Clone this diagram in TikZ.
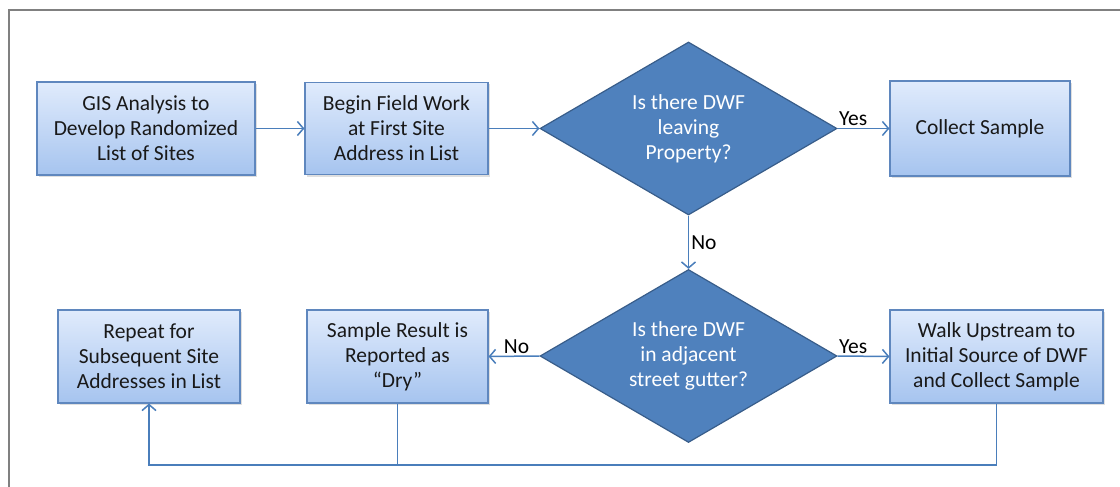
\documentclass[tikz,border=0pt]{standalone}
\usepackage{fontspec}
\setmainfont{Carlito}
\usetikzlibrary{shapes.geometric,arrows.meta,shadows}
\definecolor{boxtop}{RGB}{224,235,252}
\definecolor{boxbot}{RGB}{166,196,239}
\definecolor{boxline}{RGB}{95,135,190}
\definecolor{decfill}{RGB}{79,129,189}
\definecolor{decline}{RGB}{56,93,138}
\definecolor{linkcol}{RGB}{74,126,187}
\definecolor{framecol}{RGB}{128,128,128}

\begin{document}
\begin{tikzpicture}[x=1pt,y=1pt,
  every node/.style={font=\fontsize{21.5}{25}\selectfont},
  stepbox/.style={rectangle, draw=boxline, line width=1.2pt,
    top color=boxtop, bottom color=boxbot, align=center, inner sep=0pt,
    text=black!90,
    drop shadow={shadow xshift=1.5pt, shadow yshift=-2pt, opacity=0.25}},
  decision/.style={diamond, draw=decline, line width=1.2pt, fill=decfill,
    text=white, align=center, inner sep=0pt, aspect=1.72,
    minimum width=297pt, minimum height=173pt},
  linkline/.style={draw=linkcol, line width=1.5pt},
  link/.style={linkline, -{Straight Barb[length=6pt,width=14pt]}},
  lbl/.style={text=black, inner sep=2pt}]

  % page extent and outer frame
  \useasboundingbox (0,0) rectangle (1120,-487);
  \draw[framecol, line width=2pt] (9,-487) -- (9,-10.5) -- (1120,-10.5);

  % first row
  \node[stepbox, minimum width=218pt, minimum height=93pt] (gis) at (146,-128.5)
    {GIS Analysis to\\Develop Randomized\\List of Sites};
  \node[stepbox, minimum width=183pt, minimum height=92pt] (begin) at (396.5,-128.5)
    {Begin Field Work\\at First Site\\Address in List};
  \node[decision] (q1) at (688.5,-128.5) {Is there DWF\\leaving\\Property?};
  \node[stepbox, minimum width=180pt, minimum height=95pt] (collect) at (980,-128.5)
    {Collect Sample};

  % second row
  \node[decision] (q2) at (688.5,-356) {Is there DWF\\in adjacent\\street gutter?};
  \node[stepbox, minimum width=182pt, minimum height=93pt] (repeat) at (149,-356.5)
    {Repeat for\\Subsequent Site\\Addresses in List};
  \node[stepbox, minimum width=181pt, minimum height=93pt] (dry) at (397.5,-356.5)
    {Sample Result is\\Reported as\\“Dry”};
  \node[stepbox, minimum width=213pt, minimum height=93pt] (walk) at (996.5,-356.5)
    {Walk Upstream to\\Initial Source of DWF\\and Collect Sample};

  % connectors
  \draw[link] (gis) -- (begin);
  \draw[link] (begin.east) -- (q1.west);
  \draw[link] (q1.east) -- node[lbl, above, pos=0.3] {Yes} (collect.west);
  \draw[link] (q1.south) -- node[lbl, right] {No} (q2.north);
  \draw[link] (q2.east) -- node[lbl, above, pos=0.3] {Yes} (walk.west);
  \draw[link] (q2.west) -- node[lbl, above, pos=0.45] {No} (dry.east);

  % return path to the next site
  \coordinate (base) at (0,-465);
  \draw[link] (walk.south) -- (walk.south |- base) -- (repeat.south |- base) -- (repeat.south);
  \draw[linkline] (dry.south) -- (dry.south |- base);
\end{tikzpicture}
\end{document}
